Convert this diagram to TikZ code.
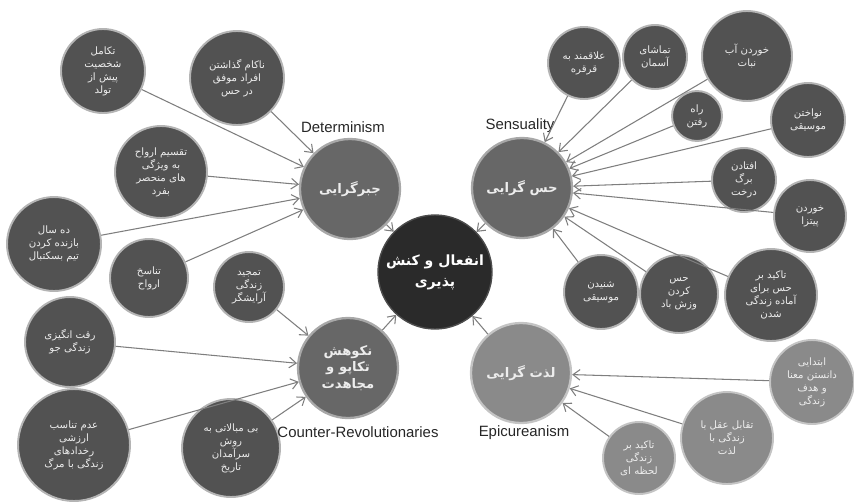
\documentclass[tikz,border=0pt]{standalone}
\usepackage{fontspec}
\setmainfont{Liberation Sans}
\newfontfamily\arabicfont[Script=Arabic]{DejaVu Sans}
\TeXXeTstate=1
\usetikzlibrary{arrows.meta}

\definecolor{leafgray}{HTML}{525252}
\definecolor{leafrim}{HTML}{B4B4B4}
\definecolor{topicgray}{HTML}{676767}
\definecolor{topicrim}{HTML}{A8A8A8}
\definecolor{coregray}{HTML}{2A2A2A}
\definecolor{paleleaf}{HTML}{8A8A8A}
\definecolor{palerim}{HTML}{C4C4C4}
\definecolor{linkgray}{HTML}{7E7E7E}
\definecolor{textgray}{HTML}{EDEDED}

\newcommand{\fa}[1]{\beginR #1\endR}

\tikzset{
  leaf/.style={circle, fill=leafgray, draw=leafrim, line width=1.1pt, inner sep=0pt,
    minimum size=2*#1*0.02cm, text=textgray, align=center,
    font=\arabicfont\fontsize{5.8}{7.4}\selectfont},
  paleleafnode/.style={leaf=#1, fill=paleleaf, draw=palerim},
  topic/.style={circle, fill=topicgray, draw=topicrim, line width=1.3pt, inner sep=0pt,
    minimum size=100*0.02cm, text=textgray, align=center,
    font=\arabicfont\bfseries\fontsize{7.5}{9.5}\selectfont},
  core/.style={circle, fill=coregray, draw=black!70, line width=0.8pt, inner sep=0pt,
    minimum size=114*0.02cm, text=white, align=center,
    font=\arabicfont\bfseries\fontsize{8}{12}\selectfont},
  caption/.style={font=\fontsize{8.5}{10}\selectfont, text=black!85},
  link/.style={-{Straight Barb[length=4pt,width=6pt]}, draw=linkgray, line width=0.6pt}
}

\begin{document}
\begin{tikzpicture}[x=0.02cm,y=-0.02cm]
\useasboundingbox (0,0) rectangle (854,501);

% core
\node[core] (core) at (435,272) {\fa{انفعال و کنش}\\\fa{پذیری}};

% four schools
\node[topic] (jabr) at (350,189) {\fa{جبرگرایی}};
\node[topic] (hess) at (522,188) {\fa{حس گرایی}};
\node[topic] (nekuhesh) at (348,368) {\fa{نکوهش}\\\fa{تکاپو و}\\\fa{مجاهدت}};
\node[topic, fill=paleleaf, draw=palerim] (lezzat) at (521,373) {\fa{لذت گرایی}};

% Determinism
\node[leaf=42] (takamol) at (103,71) {\fa{تکامل}\\\fa{شخصیت}\\\fa{پیش از}\\\fa{تولد}};
\node[leaf=47] (nakam) at (237,78) {\fa{ناکام گذاشتن}\\\fa{افراد موفق}\\\fa{در حس}};
\node[leaf=46] (taqsim) at (161,172) {\fa{تقسیم ارواح}\\\fa{به ویژگی}\\\fa{های منحصر}\\\fa{بفرد}};
\node[leaf=47] (dahsal) at (54,244) {\fa{ده سال}\\\fa{بازنده کردن}\\\fa{تیم بسکتبال}};
\node[leaf=39] (tanasokh) at (149,278) {\fa{تناسخ}\\\fa{ارواح}};

% Counter-Revolutionaries
\node[leaf=35] (tamjid) at (249,287) {\fa{تمجید}\\\fa{زندگی}\\\fa{آرایشگر}};
\node[leaf=45] (reqqat) at (70,342) {\fa{رقت انگیزی}\\\fa{زندگی جو}};
\node[leaf=56] (adam) at (74,445) {\fa{عدم تناسب}\\\fa{ارزشی}\\\fa{رخدادهای}\\\fa{زندگی با مرگ}};
\node[leaf=49] (bimobalati) at (231,448) {\fa{بی مبالاتی به}\\\fa{روش}\\\fa{سرآمدان}\\\fa{تاریخ}};

% Sensuality
\node[leaf=36] (qerqere) at (584,63) {\fa{علاقمند به}\\\fa{قرقره}};
\node[leaf=32] (asman) at (655,57) {\fa{تماشای}\\\fa{آسمان}};
\node[leaf=45] (abnabat) at (747,56) {\fa{خوردن آب}\\\fa{نبات}};
\node[leaf=25] (rah) at (697,116) {\fa{راه}\\\fa{رفتن}};
\node[leaf=37] (navakhtan) at (808,120) {\fa{نواختن}\\\fa{موسیقی}};
\node[leaf=32] (barg) at (744,180) {\fa{افتادن}\\\fa{برگ}\\\fa{درخت}};
\node[leaf=36] (pizza) at (810,216) {\fa{خوردن}\\\fa{پیتزا}};
\node[leaf=46] (takid) at (771,295) {\fa{تاکید بر}\\\fa{حس برای}\\\fa{آماده زندگی}\\\fa{شدن}};
\node[leaf=37] (shenidan) at (601,292) {\fa{شنیدن}\\\fa{موسیقی}};
\node[leaf=39] (bad) at (679,294) {\fa{حس}\\\fa{کردن}\\\fa{وزش باد}};

% Epicureanism
\node[paleleafnode=42] (ebtedaei) at (812,382) {\fa{ابتدایی}\\\fa{دانستن معنا}\\\fa{و هدف}\\\fa{زندگی}};
\node[paleleafnode=46] (taqabol) at (727,438) {\fa{تقابل عقل با}\\\fa{زندگی با}\\\fa{لذت}};
\node[paleleafnode=36] (lahze) at (639,458) {\fa{تاکید بر}\\\fa{زندگی}\\\fa{لحظه ای}};

% english names
\node[caption] (jabrcap) at (343,127) {Determinism};
\node[caption] (hesscap) at (520,126) {Sensuality};
\node[caption] (nekucap) at (358,432) {Counter-Revolutionaries};
\node[caption] (lezzatcap) at (524,433) {Epicureanism};

% schools to core
\draw[link] (jabr) -- (core);
\draw[link] (hess) -- (core);
\draw[link] (nekuhesh) -- (core);
\draw[link] (lezzat) -- (core);

% leaves to schools
\foreach \leafname in {takamol,nakam,taqsim,dahsal,tanasokh}
  \draw[link] (\leafname) -- (jabr);
\foreach \leafname in {tamjid,reqqat,adam,bimobalati}
  \draw[link] (\leafname) -- (nekuhesh);
\foreach \leafname in {qerqere,asman,abnabat,rah,navakhtan,barg,pizza,takid,shenidan,bad}
  \draw[link] (\leafname) -- (hess);
\foreach \leafname in {ebtedaei,taqabol,lahze}
  \draw[link] (\leafname) -- (lezzat);

\end{tikzpicture}
\end{document}
